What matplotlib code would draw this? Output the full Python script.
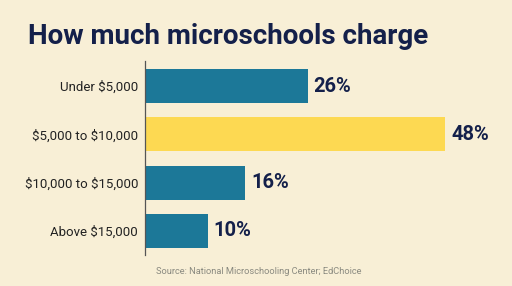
import matplotlib
matplotlib.use("Agg")
import matplotlib.pyplot as plt

categories = ["Under $5,000", "$5,000 to $10,000", "$10,000 to $15,000", "Above $15,000"]
values = [26, 48, 16, 10]
colors = ["#1c7898", "#fdd952", "#1c7898", "#1c7898"]

BG = "#f8efd6"
NAVY = "#14204a"

plt.rcParams['font.family'] = ['Roboto', 'DejaVu Sans']
plt.rcParams['text.parse_math'] = False

W, H = 512, 286
fig = plt.figure(figsize=(W / 100, H / 100), dpi=100, facecolor=BG)
x0, x1 = 145, 512
y_top, y_bot = 61, 255
ax = fig.add_axes([x0 / W, (H - y_bot) / H, (x1 - x0) / W, (y_bot - y_top) / H])
ax.set_facecolor(BG)

ypos = list(range(len(categories)))
ax.barh(ypos, values, height=0.7, color=colors)
ax.set_xlim(0, (x1 - x0) / 6.25)
ax.set_ylim(3.5, -0.52)

for y, v in zip(ypos, values):
    ax.text(v + 1.0, y, f"{v}%", va="center", ha="left", fontsize=14.5,
            fontweight="bold", color=NAVY)

ax.set_yticks(ypos)
ax.set_yticklabels(categories, fontsize=9.5, color="#222222")
ax.tick_params(axis="y", length=0, pad=5)
ax.set_xticks([])
for s in ["top", "right", "bottom"]:
    ax.spines[s].set_visible(False)
ax.spines["left"].set_color("#555555")
ax.spines["left"].set_linewidth(0.9)

fig.text(28 / W, 1 - 37 / H, "How much microschools charge", fontsize=20,
         fontweight="bold", color=NAVY, va="center", ha="left")
fig.text(156 / W, 1 - 272 / H, "Source: National Microschooling Center; EdChoice",
         fontsize=6.7, color="#8a8a80", va="center", ha="left")

fig.savefig("out.png", dpi=100, facecolor=BG)
